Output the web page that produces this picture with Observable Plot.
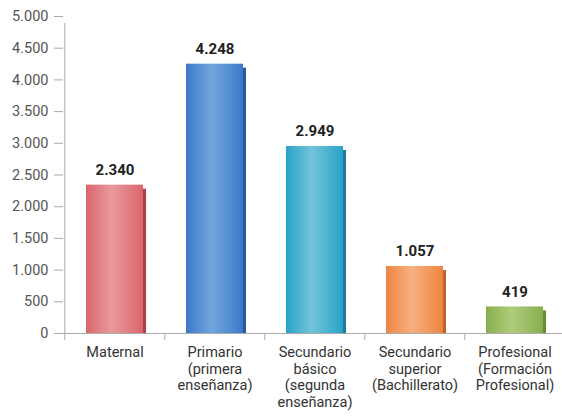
<!DOCTYPE html>
<html><head><meta charset="utf-8">
<script src="https://cdn.jsdelivr.net/npm/d3@7"></script>
<script src="https://cdn.jsdelivr.net/npm/@observablehq/plot@0.6"></script>
<style>body{margin:0;background:#fff}</style>
</head><body><div id="chart"></div>
<script>
const categories = ["Maternal", "Primario\n(primera\nenseñanza)", "Secundario\nbásico\n(segunda\nenseñanza)", "Secundario\nsuperior\n(Bachillerato)", "Profesional\n(Formación\nProfesional)"];
const values = [2340, 4248, 2949, 1057, 419];
const yTicks = [0, 500, 1000, 1500, 2000, 2500, 3000, 3500, 4000, 4500, 5000];
const edgeColors = ["#da666c", "#3b79c8", "#28a3c8", "#ee8442", "#87ae4d"];
const midColors = ["#e99a9d", "#72a6de", "#74c4da", "#f7b080", "#b0cc7c"];
const shadowColors = ["#a9434b", "#2a5a9c", "#1d7c97", "#c4622a", "#678b35"];

const data = categories.map((c, i) => ({cat: c, value: values[i], i}));
const fmt = d => d3.format(",")(d).replace(/,/g, ".");
const step = (565 - 63) / categories.length;

const plot = Plot.plot({
  width: 562, height: 419,
  marginLeft: 63, marginRight: 0, marginTop: 16, marginBottom: 86,
  style: {fontFamily: "Roboto, sans-serif", fontSize: "14.5px", color: "#444", background: "#fff"},
  x: {domain: categories, range: [63, 565], paddingInner: 0.43, paddingOuter: 0.215, label: null},
  y: {domain: [0, 5000], label: null},
  color: {type: "identity"},
  marks: [
    Plot.barY(data, {x: "cat", y: "value", fill: d => shadowColors[d.i], dx: 3, insetTop: 4}),
    Plot.barY(data, {x: "cat", y: "value", fill: d => `url(#grad${d.i})`}),
    Plot.text(data, {x: "cat", y: "value", text: d => fmt(d.value), dy: -15, fontWeight: "bold", fontSize: 15, fill: "#222"}),
    Plot.ruleY([0], {stroke: "#aaa", strokeWidth: 1}),
    Plot.ruleX(categories, {x: d => d, dx: -step / 2, y: 0, stroke: "#aaa", insetTop: 0, insetBottom: -7}),
    Plot.ruleX([0], {x: () => categories[0], dx: -step / 2, y1: 0, y2: 5000, stroke: "#aaa", insetBottom: -7}),
    Plot.axisY({ticks: yTicks, tickFormat: fmt, tickSize: 9, tickPadding: 6, stroke: "#aaa", fill: "#555", fontSize: 14.5}),
    Plot.axisX({tickSize: 0, tickPadding: 11, lineHeight: 1.17, fill: "#333", fontSize: 14.5})
  ]
});

const svg = d3.select(plot);
const defs = svg.insert("defs", ":first-child");
edgeColors.forEach((c, i) => {
  const g = defs.append("linearGradient").attr("id", "grad" + i).attr("x1", "0").attr("x2", "1").attr("y1", "0").attr("y2", "0");
  g.append("stop").attr("offset", "0%").attr("stop-color", c);
  g.append("stop").attr("offset", "45%").attr("stop-color", midColors[i]);
  g.append("stop").attr("offset", "100%").attr("stop-color", c);
});
document.getElementById("chart").appendChild(plot);
</script>
</body></html>
